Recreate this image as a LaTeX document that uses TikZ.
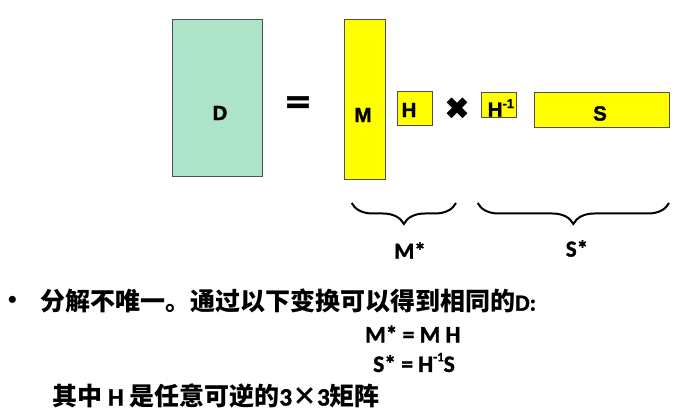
\documentclass[tikz,border=0pt]{standalone}
\usepackage{fontspec}
\setmainfont{Liberation Sans}
\newfontfamily\heavysans{Liberation Sans}[FakeBold=1.5]
\newfontfamily\cjk{Noto Sans CJK SC}
\newfontfamily\calib{Carlito}[FakeBold=1.4]
\newfontfamily\dejavu{DejaVu Sans}[FakeBold=1.5]
\usetikzlibrary{decorations.pathreplacing}
\definecolor{dgreen}{RGB}{173,227,200}
\definecolor{ybox}{RGB}{255,255,0}
\definecolor{bordergray}{RGB}{80,80,80}
\tikzset{
  mat/.style={draw=bordergray, line width=0.9pt, inner sep=0pt, minimum width=#1},
  boxlabel/.style={font=\heavysans\bfseries\fontsize{20.5}{20.5}\selectfont, inner sep=0pt},
  bracedown/.style={decorate, decoration={brace, mirror, amplitude=21pt, aspect=0.5}, line width=2pt},
  starlabel/.style={font=\calib\bfseries\fontsize{23}{23}\selectfont, inner sep=0pt},
  textline/.style={font=\cjk\bfseries\fontsize{25}{25}\selectfont, inner sep=0pt, anchor=west},
  eqline/.style={font=\calib\bfseries\fontsize{23.5}{23.5}\selectfont, inner sep=0pt, anchor=west}
}
\begin{document}
\begin{tikzpicture}[x=1pt,y=-1pt]
\useasboundingbox (0,0) rectangle (697,417);
% matrices
\node[mat=89.6pt, minimum height=157.4pt, fill=dgreen] (Dbox) at (217.5,98) {};
\node[mat=41pt, minimum height=160pt, fill=ybox] (Mbox) at (364.8,99.3) {};
\node[mat=34.3pt, minimum height=34pt, fill=ybox] (Hbox) at (415,108.3) {};
\node[mat=35pt, minimum height=25.3pt, fill=ybox] (Hibox) at (499.2,104.7) {};
\node[mat=134.3pt, minimum height=35pt, fill=ybox] (Sbox) at (601.9,109.8) {};
% labels
\node[boxlabel] (Dl) at (220,113) {D};
\node[boxlabel] (Ml) at (363,115) {M};
\node[boxlabel] (Hl) at (409,110) {H};
\node[boxlabel, anchor=base west] (Hil) at (487.5,116.7) {H\raisebox{0.42em}{\fontsize{13}{13}\selectfont -1}};
\node[boxlabel] (Sl) at (600,113.5) {S};
% operators
\node[font=\dejavu\bfseries\fontsize{34}{34}\selectfont, inner sep=0pt] (eq) at (298,104.5) {=};
\node[font=\dejavu\bfseries\fontsize{30}{30}\selectfont, inner sep=0pt] (times) at (457,108.3) {✖};
% braces
\coordinate (mb1) at (351.7,203);
\coordinate (mb2) at (456,203);
\coordinate (sb1) at (477.7,203);
\coordinate (sb2) at (669,203);
\draw[bracedown] (mb1) -- (mb2);
\draw[bracedown] (sb1) -- (sb2);
\node[starlabel] (Mstar) at (410,250.5) {M*};
\node[starlabel] (Sstar) at (577,248.5) {S*};
% text
\node[font=\fontsize{26}{26}\selectfont, inner sep=0pt] (bul) at (12.5,302) {•};
\node[textline] (l1) at (40,301) {分解不唯一。通过以下变换可以得到相同的{\calib\fontsize{23}{23}\selectfont D:}};
\node[eqline] (l2) at (365,334) {M* = M H};
\node[eqline] (l3) at (373,362.5) {S* = H\raisebox{0.45em}{\fontsize{13}{13}\selectfont -1}S};
\node[textline] (l4) at (52,396) {其中 {\calib H} 是任意可逆的{\calib 3}×{\calib 3}矩阵};
\end{tikzpicture}
\end{document}
